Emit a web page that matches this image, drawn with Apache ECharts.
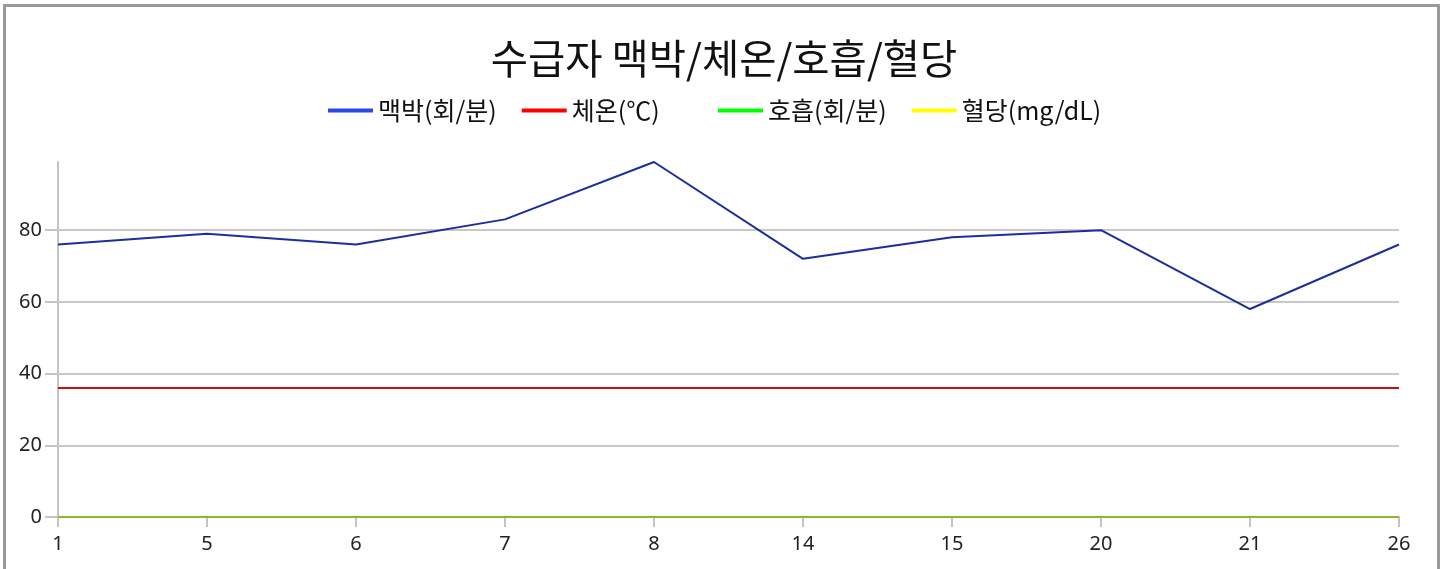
<!DOCTYPE html>
<html>
<head>
<meta charset="utf-8">
<script src="https://cdn.jsdelivr.net/npm/echarts@6/dist/echarts.min.js"></script>
<style>
html,body{margin:0;padding:0;background:#fff;overflow:hidden;}
#chart{position:absolute;left:0;top:0;width:1448px;height:569px;}
#frame{position:absolute;left:3px;top:4px;width:1431px;height:600px;border:3px solid #9a9a9a;border-bottom:none;pointer-events:none;}
</style>
</head>
<body>
<div id="chart"></div>
<div id="frame"></div>
<script>
const titleText = '수급자 맥박/체온/호흡/혈당';
const categories = ['1','5','6','7','8','14','15','20','21','26'];
const seriesNames = ['맥박(회/분)','체온(℃)','호흡(회/분)','혈당(mg/dL)'];
const pulse = [76,79,76,83,99,72,78,80,58,76];
const temperature = [36,36,36,36,36,36,36,36,36,36];
const respiration = [0,0,0,0,0,0,0,0,0,0];
const bloodSugar = [0,0,0,0,0,0,0,0,0,0];

const legendColors = ['#2b47e3','#ff0000','#00ff00','#ffff00'];
const lineColors = ['#1c2e9e','#c4101c','#8cb82a','#8cb82a'];
const dataSets = [pulse, temperature, respiration, bloodSugar];

const chart = echarts.init(document.getElementById('chart'), null, {renderer:'canvas'});
const font = '"Noto Sans CJK KR", "Noto Sans", sans-serif';
const numFont = '"Noto Sans", "Open Sans", sans-serif';
function legendBlock(names, left){
  return {
    top:98, left:left, padding:0, itemWidth:45, itemHeight:4, itemGap:25,
    icon:'rect',
    textStyle:{fontFamily:font, fontSize:25, color:'#111'},
    data: names.map(n=>({name:n, itemStyle:{color:legendColors[seriesNames.indexOf(n)]}}))
  };
}
chart.setOption({
  animation:false,
  backgroundColor:'#fff',
  title:{
    text:titleText, left:'center', top:33,
    textStyle:{fontFamily:font, fontSize:40.5, fontWeight:'normal', color:'#111'}
  },
  legend:[
    legendBlock(seriesNames.slice(0,2), 328),
    legendBlock(seriesNames.slice(2,4), 718)
  ],
  grid:{left:58, right:49, top:162, bottom:52, containLabel:false},
  xAxis:{
    type:'category', data:categories, boundaryGap:false,
    axisLine:{show:true, lineStyle:{color:'#c4c4c4', width:2}},
    axisTick:{show:true, length:10, alignWithLabel:true, lineStyle:{color:'#c4c4c4', width:2}},
    axisLabel:{margin:17, fontFamily:numFont, fontSize:20, color:'#222'},
    splitLine:{show:false}
  },
  yAxis:{
    type:'value', min:0, max:99, interval:20,
    axisLine:{show:true, lineStyle:{color:'#c4c4c4', width:2}},
    axisTick:{show:true, length:13, lineStyle:{color:'#c4c4c4', width:2}},
    axisLabel:{margin:16, showMaxLabel:false, fontFamily:numFont, fontSize:20, color:'#222'},
    splitLine:{show:true, showMaxLine:false, lineStyle:{color:'#c8c8c8', width:2}}
  },
  series: seriesNames.map((n,i)=>({
    name:n, type:'line', data:dataSets[i], showSymbol:false, symbol:'none',
    itemStyle:{color:legendColors[i]},
    lineStyle:{color:lineColors[i], width:2},
    z: 2 + i
  }))
});
</script>
</body>
</html>
